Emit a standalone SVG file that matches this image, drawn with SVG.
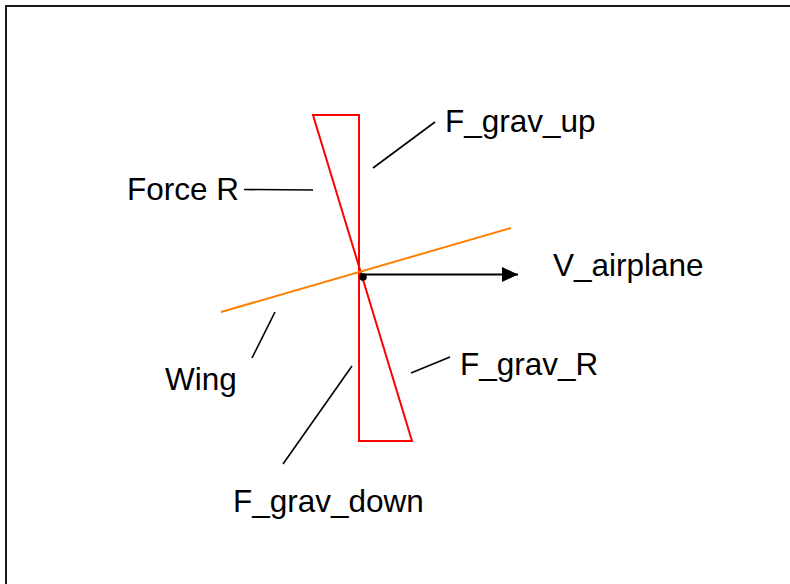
<svg xmlns="http://www.w3.org/2000/svg" width="790" height="584" viewBox="0 0 790 584">
<defs>
<style>
.lbl{font-family:"Liberation Sans",Arial,sans-serif;font-size:31.5px;fill:#000}
.lead{stroke:#000;stroke-width:1.6;fill:none}
.red{stroke:#ff0000;stroke-width:2;fill:none}
</style>
<marker id="ah" markerWidth="16" markerHeight="16" viewBox="0 0 16 16" refX="16" refY="8" orient="auto" markerUnits="userSpaceOnUse">
<path d="M0,0.5 L16,8 L0,15.5 Z" fill="#000"/>
</marker>
</defs>
<rect x="6" y="6" width="800" height="600" fill="#fff" stroke="#000" stroke-width="1.8"/>
<g id="force-shape">
<path class="red" d="M313,115 L359,115 L359,441 L412,441 Z"/>
</g>
<g id="wing-line">
<line x1="221" y1="312" x2="511" y2="228" stroke="#ff7f00" stroke-width="2"/>
</g>
<g id="velocity">
<line x1="360" y1="274.5" x2="518" y2="274.5" stroke="#000" stroke-width="2" marker-end="url(#ah)"/>
<circle cx="363" cy="277" r="3.8" fill="#000"/>
</g>
<g id="connectors">
<line class="lead" x1="373" y1="168" x2="435" y2="122"/>
<line class="lead" x1="244" y1="189.5" x2="313" y2="190"/>
<line class="lead" x1="275" y1="312" x2="252" y2="358"/>
<line class="lead" x1="352" y1="366" x2="283" y2="464"/>
<line class="lead" x1="411" y1="373" x2="450" y2="357"/>
</g>
<g id="label-f-grav-up"><text class="lbl" x="445" y="132">F_grav_up</text></g>
<g id="label-force-r"><text class="lbl" x="127" y="200">Force R</text></g>
<g id="label-v-airplane"><text class="lbl" x="553" y="276">V_airplane</text></g>
<g id="label-f-grav-r"><text class="lbl" x="460" y="375">F_grav_R</text></g>
<g id="label-wing"><text class="lbl" x="165" y="390">Wing</text></g>
<g id="label-f-grav-down"><text class="lbl" x="233" y="512">F_grav_down</text></g>
</svg>
